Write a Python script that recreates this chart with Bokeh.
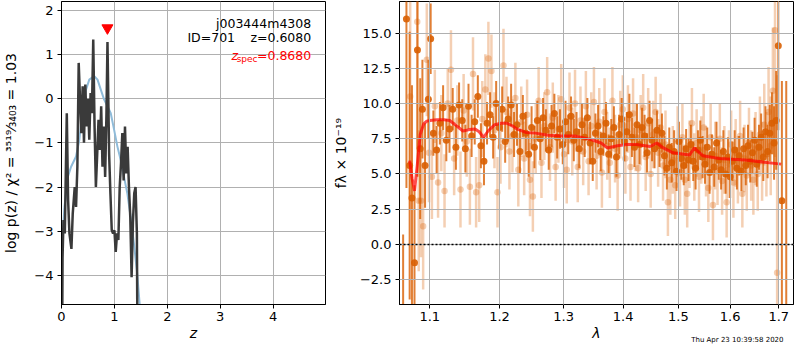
from bokeh.plotting import figure
from bokeh.layouts import row
from bokeh.models import (ColumnDataSource, FixedTicker, CustomJSTickFormatter, Label, Span, Title)
from bokeh.embed import file_html
from bokeh.resources import INLINE

FONT = "DejaVu Sans"

# ---------------- left panel: p(z) ----------------
pz_z = [0.01, 0.02, 0.0375, 0.0625, 0.1, 0.125, 0.15, 0.1875, 0.2125, 0.25,
        0.275, 0.3, 0.325, 0.35, 0.375, 0.4, 0.425, 0.45, 0.475, 0.5,
        0.525, 0.55, 0.575, 0.6, 0.625, 0.65, 0.675, 0.7, 0.725, 0.75,
        0.775, 0.8, 0.825, 0.85, 0.869, 0.9, 0.925, 0.95, 0.975, 1.0,
        1.025, 1.05, 1.075, 1.1, 1.125, 1.15, 1.175, 1.2, 1.225, 1.25,
        1.275, 1.3, 1.325, 1.35, 1.375, 1.4, 1.425, 1.4375]
pz_logp = [-6.0, -3.6, -2.75, -3.05, -0.33, -2.3, -3.05, -3.4, -2.6, -2.0,
           -2.45, -1.54, 0.81, 0.0, -0.78, 0.28, -1.0, 0.32, -0.63, 0.0,
           -0.93, 0.13, -0.33, 1.34, -0.63, -2.0, -1.25, -0.48, -1.16, -0.17,
           -1.54, -0.63, -1.77, -0.33, 1.28, -1.25, -2.16, -2.98, -3.05, -2.98,
           -3.47, -3.05, -3.2, -2.0, -1.46, -0.78, -1.85, -0.63, -1.69, -1.09,
           -2.0, -2.67, -4.04, -2.8, -2.14, -2.0, -3.05, -6.0]

prior_z = [0.0125, 0.056, 0.119, 0.181, 0.275, 0.3375, 0.4, 0.4625, 0.525, 0.619,
           0.681, 0.744, 0.806, 0.869, 0.931, 0.994, 1.056, 1.119, 1.181, 1.244,
           1.306, 1.369, 1.431, 1.494]
prior_logp = [-3.3, -2.45, -1.77, -1.54, -1.31, -0.93, -0.25, 0.2, 0.43, 0.51,
              0.43, 0.2, -0.02, -0.17, -0.33, -0.7, -1.08, -1.39, -1.77, -2.14,
              -2.67, -3.28, -3.96, -4.9]

z_spec = 0.868
z_spec_marker_y = 1.6

z_ticks = [0, 1, 2, 3, 4]
logp_ticks = [-4, -3, -2, -1, 0, 1, 2]

# ---------------- right panel: spectrum ----------------
model_wave = [1.0728, 1.0760, 1.0793, 1.0830, 1.0870, 1.0917, 1.0960, 1.1004, 1.1100, 1.1200,
              1.1278, 1.1380, 1.1464, 1.1560, 1.1640, 1.1700, 1.1765, 1.1830, 1.1930, 1.2020,
              1.2110, 1.2200, 1.2260, 1.2400, 1.2550, 1.2750, 1.2960, 1.3180, 1.3450, 1.3620,
              1.3730, 1.3900, 1.4070, 1.4240, 1.4480, 1.4600, 1.4720, 1.4900, 1.5210, 1.5300,
              1.5460, 1.5780, 1.6300, 1.7050]
model_flux = [5.95, 4.7, 3.8, 5.6, 7.8, 8.55, 8.75, 8.8, 8.85, 8.85,
              8.8, 8.4, 8.05, 8.15, 8.2, 8.0, 7.6, 8.05, 8.5, 8.6,
              8.6, 8.4, 8.2, 7.95, 7.9, 7.75, 7.7, 7.7, 7.45, 7.2,
              6.85, 7.0, 7.1, 7.1, 6.95, 7.2, 6.85, 6.5, 6.35, 6.85,
              6.3, 6.1, 6.0, 5.7]

dark_wave = [1.0641, 1.0685, 1.0728, 1.0759, 1.0793, 1.0833, 1.0870, 1.0900, 1.0936, 1.0981, 1.1013,
             1.1050, 1.1095, 1.1140, 1.1185, 1.1230, 1.1275, 1.1320, 1.1365, 1.1410, 1.1455,
             1.1500, 1.1545, 1.1590, 1.1635, 1.1680, 1.1725, 1.1770, 1.1815, 1.1860, 1.1905,
             1.1950, 1.1995, 1.2040, 1.2085, 1.2130, 1.2175, 1.2220, 1.2265, 1.2310, 1.2355,
             1.2400, 1.2445, 1.2490, 1.2535, 1.2580, 1.2625, 1.2670, 1.2715, 1.2760, 1.2805,
             1.2850, 1.2895, 1.2940, 1.2985, 1.3030, 1.3075, 1.3120, 1.3165, 1.3210, 1.3255,
             1.3300, 1.3345, 1.3390, 1.3435, 1.3480, 1.3525, 1.3570, 1.3615, 1.3660, 1.3705,
             1.3750, 1.3795, 1.3840, 1.3885, 1.3930, 1.3975, 1.4020, 1.4065, 1.4110, 1.4155,
             1.4200, 1.4245, 1.4290, 1.4335, 1.4380, 1.4425, 1.4470, 1.4515, 1.4560, 1.4605,
             1.4650, 1.4695, 1.4740, 1.4785, 1.4830, 1.4875, 1.4920, 1.4965, 1.5010, 1.5055,
             1.5100, 1.5145, 1.5190, 1.5235, 1.5280, 1.5325, 1.5370, 1.5415, 1.5460, 1.5505,
             1.5550, 1.5595, 1.5640, 1.5685, 1.5730, 1.5775, 1.5820, 1.5865, 1.5910, 1.5955,
             1.6000, 1.6045, 1.6090, 1.6135, 1.6180, 1.6225, 1.6270, 1.6315, 1.6360, 1.6405,
             1.6450, 1.6495, 1.6540, 1.6585, 1.6630, 1.6675, 1.6720, 1.6765, 1.6810, 1.6855,
             1.6900, 1.6945, 1.6990, 1.7066, 1.7159]
dark_flux = [-6.0, 16.0, 5.6, 3.3, -1.3, 13.8, 6.8, 9.6, 5.6, 10.3, 14.6,
             7.9, 6.7, 8.6, 9.7, 7.4, 8.2, 9.6, 6.9, 9.9, 8.8,
             6.8, 9.8, 7.7, 8.7, 10.5, 7.0, 5.9, 8.6, 9.2, 7.6,
             10.0, 8.3, 9.6, 7.3, 8.9, 9.9, 7.8, 8.5, 6.6, 9.1,
             7.9, 6.4, 8.3, 6.9, 8.8, 7.5, 9.0, 8.1, 6.7, 8.4,
             9.3, 7.6, 8.2, 7.1, 8.7, 7.8, 9.1, 7.4, 8.0, 6.8,
             8.5, 7.6, 9.0, 7.2, 5.9, 7.9, 8.4, 6.6, 7.7, 8.6,
             6.4, 7.5, 8.3, 6.2, 7.8, 8.9, 7.3, 8.0, 9.2, 7.6,
             6.9, 8.5, 7.1, 8.3, 7.7, 6.5, 8.8, 7.4, 6.8, 8.1,
             7.0, 7.9, 6.3, 5.4, 6.9, 5.8, 6.6, 5.2, 7.3, 6.1,
             5.6, 6.8, 6.0, 7.1, 5.9, 5.4, 6.7, 7.4, 6.2, 5.7,
             6.9, 5.1, 6.4, 5.5, 7.2, 6.0, 5.3, 6.6, 5.0, 6.2,
             4.8, 5.9, 6.7, 5.4, 6.3, 5.2, 6.8, 5.6, 7.0, 5.9,
             6.5, 7.4, 5.7, 6.9, 7.6, 6.2, 8.0, 6.6, 7.9, 8.6,
             7.2, 8.8, 14.1, 3.1, -6.0]
dark_err = [6.7, 12.0, 9.5, 8.0, 5.5, 9.0, 5.0, 3.5, 3.0, 2.8, 2.5,
            1.6, 1.7, 1.5, 1.6, 1.5, 1.7, 1.5, 1.6, 1.6, 1.5,
            1.7, 1.6, 1.5, 1.6, 1.5, 1.6, 1.7, 1.5, 1.6, 1.5,
            1.6, 1.5, 1.6, 1.5, 1.6, 1.5, 1.6, 1.5, 1.6, 1.5,
            1.5, 1.6, 1.5, 1.5, 1.4, 1.5, 1.4, 1.5, 1.4, 1.5,
            1.4, 1.5, 1.4, 1.4, 1.5, 1.4, 1.4, 1.5, 1.4, 1.4,
            1.5, 1.4, 1.4, 1.5, 1.4, 1.4, 1.5, 1.4, 1.4, 1.5,
            1.4, 1.4, 1.5, 1.4, 1.4, 1.5, 1.4, 1.4, 1.5, 1.4,
            1.4, 1.5, 1.4, 1.4, 1.5, 1.4, 1.4, 1.5, 1.4, 1.4,
            1.5, 1.4, 1.4, 1.5, 1.4, 1.4, 1.5, 1.4, 1.4, 1.5,
            1.4, 1.4, 1.5, 1.4, 1.4, 1.5, 1.4, 1.4, 1.5, 1.4,
            1.4, 1.5, 1.4, 1.4, 1.5, 1.4, 1.4, 1.5, 1.4, 1.4,
            1.5, 1.4, 1.4, 1.5, 1.4, 1.4, 1.5, 1.4, 1.5, 1.5,
            1.5, 1.6, 1.6, 1.6, 1.7, 1.7, 1.8, 1.9, 2.0, 2.2,
            2.6, 3.5, 6.0, 8.5, 17.6]

light_wave = [1.0735, 1.0830, 1.0850, 1.0880, 1.0910, 1.0960, 1.0990, 1.1030,
              1.1070, 1.1115, 1.1160, 1.1205, 1.1250, 1.1295, 1.1340, 1.1385, 1.1430, 1.1475,
              1.1520, 1.1565, 1.1610, 1.1655, 1.1700, 1.1745, 1.1790, 1.1835, 1.1880, 1.1925,
              1.1970, 1.2015, 1.2060, 1.2105, 1.2150, 1.2195, 1.2240, 1.2285, 1.2330, 1.2375,
              1.2420, 1.2465, 1.2510, 1.2555, 1.2600, 1.2645, 1.2690, 1.2735, 1.2780, 1.2825,
              1.2870, 1.2915, 1.2960, 1.3005, 1.3050, 1.3095, 1.3140, 1.3185, 1.3230, 1.3275,
              1.3320, 1.3365, 1.3410, 1.3455, 1.3500, 1.3545, 1.3590, 1.3635, 1.3680, 1.3725,
              1.3770, 1.3815, 1.3860, 1.3905, 1.3950, 1.3995, 1.4040, 1.4085, 1.4130, 1.4175,
              1.4220, 1.4265, 1.4310, 1.4355, 1.4400, 1.4445, 1.4490, 1.4535, 1.4580, 1.4625,
              1.4670, 1.4715, 1.4760, 1.4805, 1.4850, 1.4895, 1.4940, 1.4985, 1.5030, 1.5075,
              1.5120, 1.5165, 1.5210, 1.5255, 1.5300, 1.5345, 1.5390, 1.5435, 1.5480, 1.5525,
              1.5570, 1.5615, 1.5660, 1.5705, 1.5750, 1.5795, 1.5840, 1.5885, 1.5930, 1.5975,
              1.6020, 1.6065, 1.6110, 1.6155, 1.6200, 1.6245, 1.6290, 1.6335, 1.6380, 1.6425,
              1.6470, 1.6515, 1.6560, 1.6605, 1.6650, 1.6695, 1.6740, 1.6785, 1.6830, 1.6875,
              1.6920, 1.6965]
light_flux = [10.5, 15.8, 3.1, 3.1, 1.3, 13.1, 6.5, 4.8,
              9.8, 4.4, 7.9, 3.8, 10.0, 12.4, 6.1, 8.8, 3.9, 9.5,
              7.3, 4.1, 12.1, 3.7, 4.2, 8.9, 11.0, 13.2, 12.3, 8.1,
              3.7, 6.9, 12.7, 9.4, 6.6, 7.7, 10.4, 5.3, 8.7, 6.1,
              9.2, 4.6, 3.4, 7.5, 10.2, 5.8, 8.4, 10.8, 6.9, 9.0,
              5.5, 8.2, 10.3, 6.4, 5.3, 9.7, 7.3, 10.0, 5.5, 8.8,
              6.6, 9.8, 5.9, 8.4, 10.1, 6.3, 8.7, 5.1, 9.4, 7.0,
              5.8, 10.2, 6.8, 4.9, 8.5, 9.6, 6.1, 8.9, 5.5, 9.3,
              7.6, 5.4, 8.1, 9.7, 6.2, 8.6, 5.0, 7.8, 9.4, 6.5,
              8.3, 5.6, 7.1, 3.0, 4.6, 6.0, 4.2, 7.3, 5.1, 7.6,
              4.6, 3.6, 6.4, 8.6, 5.5, 7.2, 4.8, 6.7, 8.3, 5.9,
              4.0, 7.6, 2.8, 6.3, 5.2, 7.5, 4.5, 6.0, 3.0, 5.7,
              7.1, 4.4, 6.5, 5.3, 7.7, 3.6, 6.1, 4.9, 7.3, 5.6,
              4.6, 6.8, 5.0, 7.8, 5.9, 8.5, 6.4, 9.4, 7.0, 10.9,
              15.2, -2.0]
light_err = [8.0, 9.0, 5.0, 4.0, 4.5, 4.0, 3.5, 3.0,
             2.6, 2.5, 2.7, 2.6, 2.5, 2.8, 2.6, 2.5, 2.7, 2.6,
             2.5, 2.7, 2.6, 2.5, 2.6, 2.7, 2.5, 2.6, 2.6, 2.7,
             2.5, 2.6, 2.6, 2.5, 2.7, 2.6, 2.5, 2.6, 2.5, 2.6,
             2.5, 2.6, 2.5, 2.5, 2.4, 2.5, 2.4, 2.5, 2.4, 2.5,
             2.4, 2.4, 2.5, 2.4, 2.4, 2.5, 2.4, 2.4, 2.5, 2.4,
             2.4, 2.5, 2.4, 2.4, 2.5, 2.4, 2.4, 2.5, 2.4, 2.4,
             2.5, 2.4, 2.4, 2.5, 2.4, 2.4, 2.5, 2.4, 2.4, 2.5,
             2.4, 2.4, 2.5, 2.4, 2.4, 2.5, 2.4, 2.4, 2.5, 2.4,
             2.4, 2.5, 2.4, 2.4, 2.5, 2.4, 2.4, 2.5, 2.4, 2.4,
             2.5, 2.4, 2.4, 2.5, 2.4, 2.4, 2.5, 2.4, 2.4, 2.5,
             2.4, 2.4, 2.5, 2.4, 2.4, 2.5, 2.4, 2.4, 2.5, 2.4,
             2.4, 2.5, 2.4, 2.4, 2.5, 2.4, 2.4, 2.5, 2.4, 2.5,
             2.5, 2.6, 2.6, 2.7, 2.8, 2.9, 3.0, 3.2, 3.5, 4.5,
             9.0, 14.0]

wave_ticks = [1.1, 1.2, 1.3, 1.4, 1.5, 1.6, 1.7]
flux_ticks = [-2.5, 0.0, 2.5, 5.0, 7.5, 10.0, 12.5, 15.0]
timestamp = "Thu Apr 23 10:39:58 2020"

ORANGE = "#d95f02"
GRID = "#b0b0b0"


def style(p):
    p.outline_line_color = "black"
    p.outline_line_width = 1
    p.background_fill_color = "white"
    p.border_fill_color = "white"
    for ax in (p.xaxis[0], p.yaxis[0]):
        ax.axis_line_color = "black"
        ax.major_tick_line_color = "black"
        ax.major_tick_out = 4
        ax.major_tick_in = 0
        ax.minor_tick_line_color = None
        ax.major_label_text_font = FONT
        ax.major_label_text_font_size = "13px"
        ax.major_label_text_color = "black"
        ax.axis_label_text_font = FONT
        ax.axis_label_text_font_size = "14px"
        ax.axis_label_text_color = "black"
        ax.major_label_standoff = 4
    p.xaxis[0].major_label_standoff = 3
    for g in (p.xgrid[0], p.ygrid[0]):
        g.grid_line_color = GRID
        g.grid_line_width = 1


H = 348
BOTTOM = 44

# ---------------- left figure ----------------
p1 = figure(width=329, height=H, x_range=(0, 4.99), y_range=(-4.66, 2.2),
            output_backend="svg", toolbar_location=None,
            min_border_left=59, min_border_right=4, min_border_top=1, min_border_bottom=BOTTOM)
style(p1)
p1.xaxis.ticker = FixedTicker(ticks=z_ticks)
p1.yaxis.ticker = FixedTicker(ticks=logp_ticks)
p1.yaxis.formatter = CustomJSTickFormatter(code="return String(tick).replace('-', '\u2212')")
p1.xaxis.axis_label = "z"
p1.xaxis.axis_label_text_font_style = "italic"
p1.yaxis.axis_label = "log p(z) / \u03c7\u00b2 = \u00b3\u2075\u00b9\u2079\u2044\u2083\u2084\u2080\u2083 = 1.03"
p1.yaxis.axis_label_text_font_style = "normal"
p1.xaxis.axis_label_standoff = 1
p1.yaxis.axis_label_standoff = 12

p1.line(prior_z, prior_logp, line_color="#8fbbd9", line_width=2)
p1.line(pz_z, pz_logp, line_color="#3a3a3a", line_width=2.5)
p1.scatter([z_spec], [z_spec_marker_y], marker="inverted_triangle", size=11,
           fill_color="red", line_color="red")

lab_kw = dict(x_units="data", y_units="data", text_font=FONT, text_font_size="12.5px",
              text_align="right", text_baseline="alphabetic")
p1.add_layout(Label(x=4.72, y=1.705, text="j003444m4308", text_color="black", **lab_kw))
p1.add_layout(Label(x=3.28, y=1.386, text="ID=701", text_color="black", **lab_kw))
p1.add_layout(Label(x=4.72, y=1.386, text="z=0.6080", text_color="black", **lab_kw))
p1.add_layout(Label(x=4.72, y=0.977, text="=0.8680", text_color="red", **lab_kw))
p1.add_layout(Label(x=3.705, y=0.89, text="spec", text_color="red",
                    x_units="data", y_units="data", text_font=FONT, text_font_size="9px",
                    text_align="right", text_baseline="alphabetic"))
p1.add_layout(Label(x=3.335, y=0.977, text="z", text_color="red", text_font_style="italic", **lab_kw))

# ---------------- right figure ----------------
p2 = figure(width=465, height=H, x_axis_type="log", x_range=(1.0593, 1.7315),
            y_range=(-4.26, 17.24), output_backend="svg", toolbar_location=None,
            min_border_left=67, min_border_right=1, min_border_top=1, min_border_bottom=BOTTOM)
style(p2)
p2.xaxis.ticker = FixedTicker(ticks=wave_ticks)
p2.xaxis.formatter = CustomJSTickFormatter(code="return tick.toFixed(1)")
p2.yaxis.ticker = FixedTicker(ticks=flux_ticks)
p2.yaxis.formatter = CustomJSTickFormatter(code="return tick.toFixed(1).replace('-', '\u2212')")
p2.xaxis.axis_label = "\u03bb"
p2.xaxis.axis_label_text_font_style = "italic"
p2.xaxis.axis_label_standoff = 1
p2.yaxis.axis_label = "f\u03bb \u00d7 10\u207b\u00b9\u2079"
p2.yaxis.axis_label_text_font_style = "normal"
p2.yaxis.axis_label_standoff = 8
p2.xgrid.level = "overlay"
p2.ygrid.level = "overlay"

light = ColumnDataSource(dict(
    w=light_wave, f=light_flux,
    lo=[f - e for f, e in zip(light_flux, light_err)],
    hi=[f + e for f, e in zip(light_flux, light_err)]))
dark = ColumnDataSource(dict(
    w=dark_wave, f=dark_flux,
    lo=[f - e for f, e in zip(dark_flux, dark_err)],
    hi=[f + e for f, e in zip(dark_flux, dark_err)]))

p2.segment(x0="w", y0="lo", x1="w", y1="hi", source=light, line_color=ORANGE,
           line_alpha=0.3, line_width=2.5)
p2.scatter("w", "f", source=light, size=6.5, fill_color=ORANGE, fill_alpha=0.3,
           line_color=None)
p2.segment(x0="w", y0="lo", x1="w", y1="hi", source=dark, line_color=ORANGE,
           line_alpha=0.8, line_width=2)
p2.scatter("w", "f", source=dark, size=7, fill_color=ORANGE, fill_alpha=0.9,
           line_color=None)
p2.line(model_wave, model_flux, line_color="red", line_alpha=0.7, line_width=3)
zero_line = Span(location=0, dimension="width", line_color="black",
                 line_dash="2 2", line_width=1.5)
zero_line.level = "overlay"
p2.add_layout(zero_line)

stamp = Title(text=timestamp, align="right", vertical_align="top", text_font=FONT,
              text_font_size="7px", text_font_style="normal", text_color="black",
              standoff=-16, offset=10)
p2.add_layout(stamp, "below")

layout = row(p1, p2)
open("out.html", "w").write(file_html(layout, INLINE))
